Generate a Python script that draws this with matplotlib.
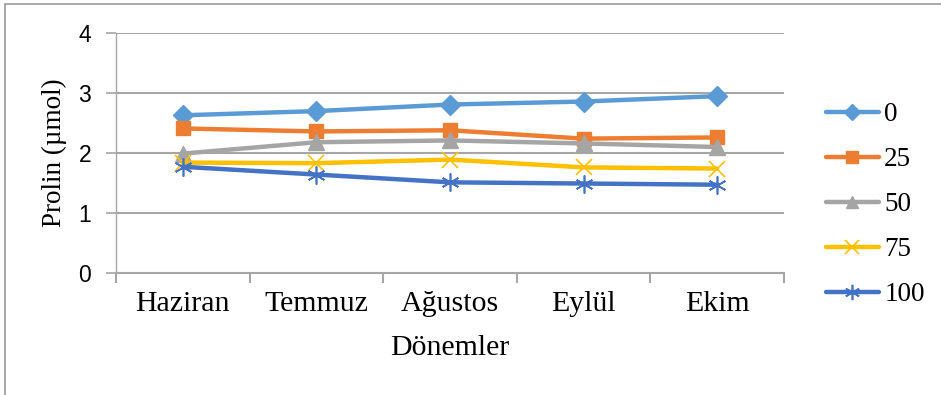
import matplotlib
matplotlib.use("Agg")
import matplotlib.pyplot as plt
from matplotlib.patches import Rectangle

categories = ["Haziran", "Temmuz", "Ağustos", "Eylül", "Ekim"]
series_names = ["0", "25", "50", "75", "100"]
s0 = [2.63, 2.70, 2.81, 2.86, 2.95]
s25 = [2.41, 2.36, 2.38, 2.24, 2.26]
s50 = [1.99, 2.18, 2.21, 2.16, 2.10]
s75 = [1.84, 1.83, 1.89, 1.76, 1.74]
s100 = [1.77, 1.64, 1.51, 1.49, 1.47]
yticks = [0, 1, 2, 3, 4]

colors = ["#5B9BD5", "#ED7D31", "#A5A5A5", "#FFC000", "#4472C4"]
serif = "Liberation Serif"

W, H = 941, 395
fig = plt.figure(figsize=(W / 100, H / 100), dpi=100)
L, R, T, B = 116, 784, 33.3, 272.7
ax = fig.add_axes([L / W, (H - B) / H, (R - L) / W, (B - T) / H])

x = list(range(len(categories)))
data = [s0, s25, s50, s75, s100]
styles = [
    dict(marker="D", ms=10, mec=colors[0]),
    dict(marker="s", ms=10.5, mec=colors[1]),
    dict(marker="^", ms=11, mec=colors[2]),
    dict(marker="x", ms=12, mew=1.2),
    dict(marker=(6, 2, 0), ms=13, mew=1.2),
]
for vals, name, c, st in zip(data, series_names, colors, styles):
    ax.plot(x, vals, color=c, lw=3.2, solid_capstyle="round", zorder=3, **st)

ax.set_xlim(-0.5, len(categories) - 0.5)
ax.set_ylim(0, 4)
ax.set_yticks(yticks)
ax.set_yticklabels([str(v) for v in yticks], family="Liberation Sans", fontsize=16.5)
ax.grid(axis="y", color="#A6A6A6", lw=1.5, zorder=0)
ax.set_axisbelow(True)

ax.set_xticks([i - 0.5 for i in range(len(categories) + 1)])
ax.set_xticklabels([])
ax.set_xticks(x, minor=True)
ax.set_xticklabels(categories, minor=True, family=serif, fontsize=21.5)
ax.tick_params(axis="x", which="minor", length=0, pad=13)
ax.tick_params(axis="x", which="major", length=7, width=1.5, color="#A6A6A6", direction="out")
ax.tick_params(axis="y", length=7, width=1.2, color="#A6A6A6", pad=11)

for s in ["top", "right"]:
    ax.spines[s].set_visible(False)
ax.spines["left"].set_color("#A6A6A6")
ax.spines["left"].set_linewidth(1.0)
ax.spines["bottom"].set_color("#A6A6A6")
ax.spines["bottom"].set_linewidth(1.5)

ax.set_xlabel("Dönemler", family=serif, fontsize=21.5, va="center")
ax.xaxis.set_label_coords(0.5, (B - 348) / (B - T))
ax.set_ylabel("Prolin (µmol)", family=serif, fontsize=19.5, va="center")
ax.yaxis.set_label_coords((54 - L) / (R - L), 0.5)

leg_handles = []
for c, st in zip(colors, styles):
    st2 = dict(st)
    st2["ms"] = st["ms"] * 0.85
    h, = ax.plot([], [], color=c, lw=3.2, solid_capstyle="round", **st2)
    leg_handles.append(h)
fig.legend(leg_handles, series_names, loc="upper left", bbox_to_anchor=(826 / W, 1 - 102 / H),
           frameon=False, prop={"family": serif, "size": 19.5}, handlelength=1.95,
           handletextpad=0.2, labelspacing=0.74, borderaxespad=0, borderpad=0)

fig.add_artist(Rectangle((5 / W, -0.1), 1.2, (H - 4) / H + 0.1, fill=False,
                         edgecolor="#9A9A9A", lw=1.2, transform=fig.transFigure))

fig.savefig("out.png", dpi=100)
